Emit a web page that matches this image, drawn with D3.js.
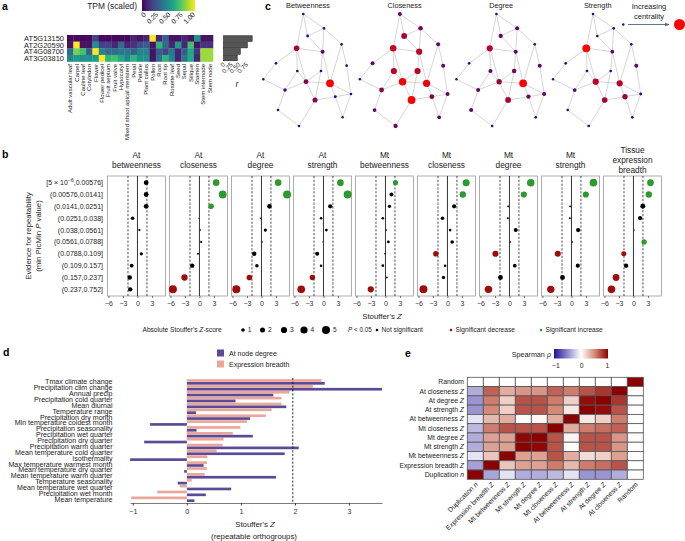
<!DOCTYPE html>
<html>
<head>
<meta charset="utf-8">
<script src="https://cdn.jsdelivr.net/npm/d3@7"></script>
<style>
  body { margin: 0; background: #fff; }
  svg { font-family: "Liberation Sans", Arial, sans-serif; }
</style>
</head>
<body>
<svg width="685" height="541"></svg>
<script>
// ---------- panel a data
let tissues = ["Adult vascular leaf", "Carpel", "Cauline leaf", "Cotyledon", "Flower", "Flower pedicel",
  "Fruit septum", "Fruit valve", "Hypocotyl", "Mixed shoot apical meristem", "Petal", "Petiole",
  "Plant callus", "Pollen", "Root", "Root tip", "Rosette leaf", "Seed", "Sepal", "Silique", "Stamen",
  "Stem internode", "Stem node"]
let genes = ["AT5G13150", "AT2G20590", "AT4G08700", "AT3G03810"]
let tpmScaled = [
  [0.02, 0.03, 0.02, 0.02, 0.2, 0.02, 0.02, 0.02, 0.02, 0.02, 0.1, 0.05, 0.1, 1.0, 0.1, 0.3, 0.05, 0.05, 0.1, 0.05, 0.5, 0.05, 0.05],
  [0.05, 1.0, 0.05, 0.05, 0.5, 0.2, 0.2, 0.1, 0.35, 0.1, 0.15, 0.25, 0.3, 0.05, 0.65, 0.35, 0.1, 0.55, 0.1, 0.7, 0.05, 0.15, 0.15],
  [0.35, 0.8, 0.7, 0.3, 1.0, 0.45, 0.35, 0.35, 0.4, 0.4, 0.3, 0.45, 0.45, 0.05, 0.3, 0.2, 0.4, 0.1, 0.3, 0.6, 0.15, 0.85, 0.85],
  [0.45, 0.55, 0.5, 0.5, 0.55, 1.0, 0.65, 0.7, 0.6, 0.45, 0.65, 0.5, 0.5, 0.05, 0.35, 0.65, 0.45, 0.1, 0.4, 0.6, 0.1, 0.85, 0.85]
]
let geneR = [0.94, 0.78, 0.55, 0.45]
let tpmTicks = [0, 0.25, 0.5, 0.75, 1]
let rTicks = [0, 0.25, 0.5, 0.75]

// ---------- panel c data
let measures = ["Betweenness", "Closeness", "Degree", "Strength"]
let nodeIds = ["A", "B", "C", "D", "E", "F", "G", "H", "I", "J", "K", "L", "M", "N", "O", "P", "Q", "R", "S", "T"]
let nodeX = [40, 60.7, 44.3, 33.3, 59.3, 78.3, 12.7, 83.3, 34, 57.7, 42.7, 66.7, 0, 21.7, 87.7, 72, 51.7, 14.7, 79.3, 35.7]
let nodeY = [14, 28.3, 36, 48.3, 51.7, 44.3, 63.3, 65.7, 71, 71, 81.7, 83.3, 79.3, 90, 94, 96.7, 100, 110, 117.3, 126]
let edges = [["A","B"],["A","C"],["A","D"],["B","C"],["B","E"],["B","F"],["C","E"],["D","E"],["D","G"],["D","I"],
  ["D","K"],["E","J"],["E","L"],["F","H"],["F","L"],["G","M"],["I","K"],["I","N"],["J","K"],["J","Q"],["K","L"],
  ["K","N"],["K","Q"],["L","O"],["L","P"],["H","O"],["P","O"],["P","Q"],["P","S"],["O","S"],["M","N"],["N","R"],
  ["R","T"],["Q","T"]]
let centrality = {
  Betweenness: [0.05, 0.05, 0.1, 0.6, 0.3, 0.05, 0.05, 0.05, 0.05, 0.05, 0.45, 1, 0, 0.2, 0.05, 0.1, 0.5, 0.05, 0, 0.05],
  Closeness: [0.3, 0.4, 0.65, 0.75, 0.7, 0.3, 0.3, 0.3, 0.7, 0.7, 0.95, 0.9, 0, 0.45, 0.3, 0.45, 1, 0.25, 0.25, 0.35],
  Degree: [0.05, 0.3, 0.35, 0.7, 0.3, 0.05, 0.05, 0.3, 0.3, 0.4, 0.55, 1, 0, 0.3, 0.3, 0.35, 0.65, 0.3, 0.05, 0.05],
  Strength: [0.05, 0.05, 0.05, 1, 0.25, 0.05, 0.05, 0.3, 0.05, 0.05, 0.7, 0.7, 0, 0.25, 0.1, 0.55, 0.6, 0.05, 0.05, 0.05]
}

// ---------- panel b data
let facetTitles = [["At", "betweenness"], ["At", "closeness"], ["At", "degree"], ["At", "strength"],
  ["Mt", "betweenness"], ["Mt", "closeness"], ["Mt", "degree"], ["Mt", "strength"],
  ["Tissue", "expression", "breadth"]]
let pBins = ["[5 × 10^−6^,0.00576]", "(0.00576,0.0141]", "(0.0141,0.0251]", "(0.0251,0.038]", "(0.038,0.0561]",
  "(0.0561,0.0788]", "(0.0788,0.109]", "(0.109,0.157]", "(0.157,0.237]", "(0.237,0.752]"]
let stoufferZ = [
  [1.8, 1.8, 1.8, -1.0, 0.4, 0.05, 0.8, -1.2, -1.6, -1.5],
  [3.45, 4.8, 2.4, -0.1, 0.2, 0.35, -0.3, -1.5, -3.1, -5.5],
  [3.45, 5.3, 1.65, -0.2, 0.8, 0.15, -1.5, -0.95, -2.5, -5.2],
  [3.5, 5.0, 1.4, -0.5, 0.6, -0.1, -1.3, -0.5, -2.3, -4.6],
  [2.07, 1.24, 0.83, -0.55, 0.2, 0.6, -0.14, -0.55, 0.28, -3.04],
  [3.86, 3.17, 1.38, -1.03, 0.55, 0.97, -2.4, -0.48, -0.83, -4.97],
  [4.4, 2.97, -0.28, -0.34, 1.3, 0.2, -2.9, 1.1, -1.86, -4.35],
  [4.55, 2.97, -0.28, -0.34, 1.38, 0.2, -2.83, 1.31, -1.86, -4.28],
  [3.52, 3.17, 1.93, 1.38, 0.14, 2.2, -2.0, -1.52, -3.6, -4.55]
]
let signif = [
  [0, 0, 0, 0, 0, 0, 0, 0, 0, 0],
  [1, 1, 1, 0, 0, 0, 0, 0, -1, -1],
  [1, 1, 0, 0, 0, 0, 0, 0, -1, -1],
  [1, 1, 0, 0, 0, 0, 0, 0, -1, -1],
  [1, 0, 0, 0, 0, 0, 0, 0, 0, -1],
  [1, 1, 0, 0, 0, 0, -1, 0, 0, -1],
  [1, 1, 0, 0, 0, 0, -1, 0, 0, -1],
  [1, 1, 0, 0, 0, 0, -1, 0, 0, -1],
  [1, 1, 0, 0, 0, 1, -1, 0, -1, -1]
]
let zTicks = [-6, -3, 0, 3]
let sizeLegend = [1, 2, 3, 4, 5]

// ---------- panel d data
let envVars = ["Tmax climate change", "Precipitation clim change", "Annual precip", "Precipitation cold quarter",
  "Mean diurnal", "Temperature range", "Precipitation dry month", "Min temperature coldest month",
  "Precipitation seasonality", "Precipitation wet quarter", "Precipitation dry quarter", "Precipitation warm quarter",
  "Mean temperature cold quarter", "Isothermality", "Max temperature warmest month", "Mean temperature dry quarter",
  "Mean temperature warm quarter", "Temperature seasonality", "Mean temperature wet quarter",
  "Precipitation wet month", "Mean temperature"]
let atNodeDegree = [2.55, 3.61, 1.60, 0.90, 1.84, 0.17, 1.17, -0.68, 0.18, 1.22, -0.79, 2.07, 1.81, -1.05, 0.31,
  -0.05, 1.65, -0.17, 0.82, 0.35, 0.14]
let exprBreadth = [2.49, 2.33, 1.90, 1.75, 1.75, 1.57, 1.46, 1.11, 0.99, 0.85, 0.68, 0.66, 0.55, 0.38, 0.37,
  0.37, 0.33, 0.09, -0.13, -0.55, -1.03]
let dTicks = [-1, 0, 1, 2, 3]

// ---------- panel e data
let eRows = ["Random", "At closeness Z", "At degree Z", "At strength Z", "At betweenness Z", "Mt closeness Z",
  "Mt degree Z", "Mt strength Z", "Mt betweenness Z", "Expression breadth Z", "Duplication n"]
let eCols = ["Duplication n", "Expression breadth Z", "Mt betweenness Z", "Mt strength Z", "Mt degree Z",
  "Mt closeness Z", "At betweenness Z", "At strength Z", "At degree Z", "At closeness Z", "Random"]
let rho = [
  [0, 0, 0, 0, 0, 0, 0, 0, 0, 0, 1],
  [-0.35, 0.65, 0.35, 0.45, 0.45, 0.65, 0.55, 0.7, 0.8, 1, 0],
  [-0.45, 0.55, 0.2, 0.7, 0.7, 0.55, 0.2, 0.95, 1, 0.8, 0],
  [-0.45, 0.5, 0.2, 0.7, 0.7, 0.5, 0.1, 1, 0.95, 0.7, 0],
  [-0.12, 0.3, 0.35, 0.02, 0.04, 0.35, 1, 0.1, 0.2, 0.55, 0],
  [-0.3, 0.55, 0.7, 0.7, 0.7, 1, 0.35, 0.55, 0.6, 0.65, 0],
  [-0.35, 0.4, 0.4, 0.97, 1, 0.7, 0.05, 0.7, 0.7, 0.45, 0.02],
  [-0.35, 0.4, 0.4, 1, 0.97, 0.7, 0.02, 0.7, 0.7, 0.45, 0],
  [-0.12, 0.25, 1, 0.4, 0.4, 0.7, 0.35, 0.15, 0.2, 0.4, 0],
  [-0.4, 1, 0.25, 0.4, 0.4, 0.55, 0.3, 0.55, 0.6, 0.7, 0],
  [1, -0.38, -0.12, -0.35, -0.35, -0.3, -0.12, -0.45, -0.45, -0.35, 0]
]
let rhoTicks = [-1, 0, 1]

let svg = d3.select("svg")
let defs = svg.append("defs")
let ink = "#222"

let txt = (g, x, y, s, size, anchor) => g.append("text")
  .attr("x", x).attr("y", y)
  .attr("font-size", size)
  .attr("text-anchor", anchor || "start")
  .attr("fill", ink)
  .text(s)

// label with last word italic (Z, n)
let italicTail = (t, s) => {
  let parts = s.split(" ")
  let last = parts[parts.length - 1]
  if (last === "Z" || last === "n") {
    t.text(parts.slice(0, -1).join(" ") + " ")
    t.append("tspan").attr("font-style", "italic").text(last)
  } else t.text(s)
}

let panelLetters = () => {
  [["a", 2, 10], ["c", 265, 10], ["b", 2, 158], ["d", 3, 356], ["e", 405, 357]].forEach(p => {
    txt(svg, p[1], p[2], p[0], 10.5).attr("font-weight", "bold").attr("fill", "#000")
  })
}

let drawPanelA = () => {
  let g = svg.append("g")
  let x = d3.scaleBand().domain(tissues).range([67, 213])
  let y = d3.scaleBand().domain(genes).range([35, 61.5])
  let color = d3.scaleSequential(d3.interpolateViridis).domain([0, 1])

  genes.forEach((gene, i) => {
    g.selectAll(null)
     .data(tpmScaled[i])
     .enter()
     .append("rect")
     .attr("x", (d, j) => x(tissues[j]))
     .attr("y", y(gene))
     .attr("width", x.bandwidth() + 0.3)
     .attr("height", y.bandwidth() + 0.3)
     .attr("fill", d => color(d))
  })

  genes.forEach(gene => {
    txt(g, 64, y(gene) + y.bandwidth() / 2, gene, 7.5, "end").attr("dy", "0.35em")
  })
  tissues.forEach(t => {
    txt(g, 0, 0, t, 6, "end")
      .attr("transform", "translate(" + (x(t) + x.bandwidth() / 2 + 2) + ",64) rotate(-90)")
  })

  // colour bar
  let grad = defs.append("linearGradient").attr("id", "viridis")
  d3.range(0, 1.01, 0.1).forEach(t => {
    grad.append("stop").attr("offset", t).attr("stop-color", color(t))
  })
  let cx = d3.scaleLinear().domain([0, 1]).range([144, 193])
  g.append("rect").attr("x", 142).attr("y", 0).attr("width", 53).attr("height", 11).attr("fill", "url(#viridis)")
  txt(g, 137, 8.5, "TPM (scaled)", 8.4, "end")
  tpmTicks.forEach(t => {
    txt(g, 0, 0, t === 0 ? "0" : d3.format(".2f")(t), 6.8, "end")
      .attr("transform", "translate(" + (cx(t) + 2.5) + ",15) rotate(-45)")
  })

  // r bars
  let rx = d3.scaleLinear().domain([0, 1]).range([223.5, 254])
  let ry = d3.scaleBand().domain(genes).range([35, 61.5]).padding(0.12)
  g.selectAll(null)
   .data(geneR)
   .enter()
   .append("rect")
   .attr("x", rx(0))
   .attr("y", (d, i) => ry(genes[i]))
   .attr("width", d => rx(d) - rx(0))
   .attr("height", ry.bandwidth())
   .attr("fill", "#555")
   .attr("stroke", "#222")
   .attr("stroke-width", 0.6)
  rTicks.forEach(t => {
    txt(g, 0, 0, t === 0 ? "0" : d3.format(".2f")(t), 6.3, "end")
      .attr("transform", "translate(" + (rx(t) + 2) + ",65) rotate(-45)")
  })
  txt(g, 237, 87, "r", 8.5, "middle").attr("font-style", "italic")
}

let drawPanelC = () => {
  let g = svg.append("g")
  let off = d3.scalePoint().domain(measures).range([263.3, 553])
  let color = d3.scaleLinear().domain([0, 1]).range(["#1a0a90", "#ff0000"])
  let radius = d3.scaleLinear().domain([0, 1]).range([1.2, 3.9])
  let idx = id => nodeIds.indexOf(id)

  measures.forEach(m => {
    let ox = off(m)
    txt(g, ox + 44.7, 8, m, 7.3, "middle")
    g.selectAll(null)
     .data(edges)
     .enter()
     .append("line")
     .attr("x1", d => ox + nodeX[idx(d[0])])
     .attr("y1", d => nodeY[idx(d[0])])
     .attr("x2", d => ox + nodeX[idx(d[1])])
     .attr("y2", d => nodeY[idx(d[1])])
     .attr("stroke", "#c4c4c4")
     .attr("stroke-width", 0.7)
    g.selectAll(null)
     .data(centrality[m])
     .enter()
     .append("circle")
     .attr("cx", (d, i) => ox + nodeX[i])
     .attr("cy", (d, i) => nodeY[i])
     .attr("r", d => radius(d))
     .attr("fill", d => color(d))
  })

  // increasing centrality key
  txt(g, 649, 9, "Increasing", 7.5, "middle")
  txt(g, 649, 18.5, "centrality", 7.5, "middle")
  defs.append("marker")
      .attr("id", "arrow")
      .attr("viewBox", "0 0 10 10")
      .attr("refX", 9).attr("refY", 5)
      .attr("markerWidth", 5).attr("markerHeight", 5)
      .attr("orient", "auto")
      .append("path").attr("d", "M0,1 L10,5 L0,9 z").attr("fill", "#4d6a82")
  g.append("circle").attr("cx", 623.3).attr("cy", 24.5).attr("r", radius(0)).attr("fill", color(0))
  g.append("line").attr("x1", 628).attr("x2", 669).attr("y1", 24.5).attr("y2", 24.5)
   .attr("stroke", "#4d6a82").attr("stroke-width", 0.9).attr("marker-end", "url(#arrow)")
  g.append("circle").attr("cx", 679.5).attr("cy", 24.5).attr("r", 5.5).attr("fill", color(1))
}

let drawPanelB = () => {
  let g = svg.append("g")
  let facet = d3.scaleBand().domain(d3.range(9)).range([107.5, 661.5]).paddingInner(0.0645)
  let y = d3.scalePoint().domain(pBins).range([176, 296]).padding(0.56)
  let size = d3.scaleSqrt().domain([0, 5]).range([0, 4]).clamp(true)
  let sigColor = s => s > 0 ? "#2e9a2e" : s < 0 ? "#a00c0c" : "#000"

  stoufferZ.forEach((zs, f) => {
    let left = facet(f)
    let w = facet.bandwidth()
    let x = d3.scaleLinear().domain([-6.2, 5.8]).range([left, left + w])
    let lines = facetTitles[f]
    lines.forEach((l, k) => {
      txt(g, left + w / 2, 163 - (lines.length - 1) * 4.85 + k * 9.7, l, 8.3, "middle")
    })
    g.append("rect").attr("x", left).attr("y", 176).attr("width", w).attr("height", 120)
     .attr("fill", "none").attr("stroke", "#9a9a9a").attr("stroke-width", 0.8)
    g.append("line").attr("x1", x(0)).attr("x2", x(0)).attr("y1", 176).attr("y2", 296)
     .attr("stroke", "#000").attr("stroke-width", 0.8)
    ;[-1.96, 1.96].forEach(v => {
      g.append("line").attr("x1", x(v)).attr("x2", x(v)).attr("y1", 176).attr("y2", 296)
       .attr("stroke", "#000").attr("stroke-width", 0.7).attr("stroke-dasharray", "2.2,1.6")
    })
    g.selectAll(null)
     .data(zs)
     .enter()
     .append("circle")
     .attr("cx", d => x(d))
     .attr("cy", (d, i) => y(pBins[i]))
     .attr("r", d => size(Math.abs(d)))
     .attr("fill", (d, i) => sigColor(signif[f][i]))
    g.append("g")
     .attr("transform", "translate(0,296)")
     .call(d3.axisBottom(x).tickValues(zTicks).tickSize(2).tickPadding(3.5).tickSizeOuter(0))
     .attr("font-family", null)
     .attr("font-size", 7)
     .call(a => a.select(".domain").remove())
     .call(a => a.selectAll("line").attr("stroke", "#666"))
     .call(a => a.selectAll("text").attr("fill", "#333"))
  })

  pBins.forEach(b => {
    let t = txt(g, 103, y(b), "", 7, "end").attr("dy", "0.35em")
    let parts = b.split("^")
    if (parts.length === 3) {
      t.append("tspan").text(parts[0])
      t.append("tspan").attr("dy", -3).attr("font-size", 5.2).text(parts[1])
      t.append("tspan").attr("dy", 3).text(parts[2])
    } else t.text(b)
  })

  txt(g, 0, 0, "Evidence for repeatability", 7.8, "middle")
    .attr("transform", "translate(31,236) rotate(-90)")
  let yt2 = txt(g, 0, 0, "(min PicMin ", 7.8, "middle")
    .attr("transform", "translate(41,236) rotate(-90)")
  yt2.append("tspan").attr("font-style", "italic").text("P")
  yt2.append("tspan").text(" value)")

  let xt = txt(g, 382, 319, "Stouffer's ", 7.8, "middle")
  xt.append("tspan").attr("font-style", "italic").text("Z")

  // legend
  let ly = 330
  let lt = txt(g, 142.5, ly + 2.3, "Absolute Stouffer's ", 6.6)
  lt.append("tspan").attr("font-style", "italic").text("Z")
  lt.append("tspan").text("-score")
  let lx = [243, 262.5, 284, 304, 326]
  sizeLegend.forEach((s, i) => {
    g.append("circle").attr("cx", lx[i]).attr("cy", ly).attr("r", size(s)).attr("fill", "#000")
    txt(g, lx[i] + size(s) + 3, ly + 2.3, String(s), 6.6)
  })
  let pt = txt(g, 348, ly + 2.3, "", 6.3)
  pt.append("tspan").attr("font-style", "italic").text("P")
  pt.append("tspan").text(" < 0.05")
  ;[[377, 0, "Not significant"], [451, -1, "Significant decrease"], [541, 1, "Significant increase"]].forEach(k => {
    g.append("circle").attr("cx", k[0]).attr("cy", ly).attr("r", 1.3).attr("fill", sigColor(k[1]))
    txt(g, k[0] + 4.5, ly + 2.3, k[2], 6.6)
  })
}

let drawPanelD = () => {
  let g = svg.append("g")
  let all = atNodeDegree.concat(exprBreadth)
  let x = d3.scaleLinear().domain(d3.extent(all)).range([130.1, 382])
  let y = d3.scaleBand().domain(envVars).range([379, 502.2])
  let sub = d3.scaleBand().domain(["expr", "deg"]).range([0, y.bandwidth()]).padding(0.06)
  let purple = "#5b4b94"
  let salmon = "#eba69a"

  g.selectAll(null)
   .data(exprBreadth)
   .enter()
   .append("rect")
   .attr("x", d => x(Math.min(0, d)))
   .attr("y", (d, i) => y(envVars[i]) + sub("expr"))
   .attr("width", d => Math.abs(x(d) - x(0)))
   .attr("height", sub.bandwidth())
   .attr("fill", salmon)
  g.selectAll(null)
   .data(atNodeDegree)
   .enter()
   .append("rect")
   .attr("x", d => x(Math.min(0, d)))
   .attr("y", (d, i) => y(envVars[i]) + sub("deg"))
   .attr("width", d => Math.abs(x(d) - x(0)))
   .attr("height", sub.bandwidth())
   .attr("fill", purple)

  g.append("line").attr("x1", x(1.96)).attr("x2", x(1.96)).attr("y1", 378).attr("y2", 503)
   .attr("stroke", "#000").attr("stroke-width", 0.8).attr("stroke-dasharray", "2.2,1.6")

  envVars.forEach(v => {
    txt(g, 112.5, y(v) + y.bandwidth() / 2, v, 7.1, "end").attr("dy", "0.35em")
  })

  g.append("g")
   .attr("transform", "translate(0,503)")
   .call(d3.axisBottom(x).tickValues(dTicks).tickFormat(d3.format("d")).tickSize(2.5).tickPadding(3).tickSizeOuter(0))
   .attr("font-family", null)
   .attr("font-size", 7.2)
   .call(a => a.select(".domain").attr("stroke", "#444").attr("stroke-width", 0.7))
   .call(a => a.selectAll("line").attr("stroke", "#444"))
   .call(a => a.selectAll("text").attr("fill", "#333"))

  let t1 = txt(g, 255, 527, "Stouffer's ", 7.8, "middle")
  t1.append("tspan").attr("font-style", "italic").text("Z")
  txt(g, 254, 539, "(repeatable orthogroups)", 7.8, "middle")

  g.append("rect").attr("x", 217).attr("y", 349.5).attr("width", 7).attr("height", 7).attr("fill", purple)
  txt(g, 229, 355.5, "At node degree", 7)
  g.append("rect").attr("x", 217).attr("y", 360.5).attr("width", 7).attr("height", 7).attr("fill", salmon)
  txt(g, 229, 366.5, "Expression breadth", 7)
}

let drawPanelE = () => {
  let g = svg.append("g")
  let x = d3.scaleBand().domain(eCols).range([467.3, 643.3])
  let y = d3.scaleBand().domain(eRows).range([377.3, 479.3])
  let color = d3.scaleLinear().domain([-1, 0, 0.5, 1]).range(["#1f1299", "#ffffff", "#d58a78", "#8b0000"])

  eRows.forEach((r, i) => {
    g.selectAll(null)
     .data(rho[i])
     .enter()
     .append("rect")
     .attr("x", (d, j) => x(eCols[j]))
     .attr("y", y(r))
     .attr("width", x.bandwidth())
     .attr("height", y.bandwidth())
     .attr("fill", d => color(d))
     .attr("stroke", "#555")
     .attr("stroke-width", 0.8)
    let t = txt(g, 464, y(r) + y.bandwidth() / 2, "", 6.8, "end").attr("dy", "0.35em")
    italicTail(t, r)
  })
  eCols.forEach(c => {
    let t = txt(g, 0, 0, "", 6.8, "end")
      .attr("transform", "translate(" + (x(c) + x.bandwidth() / 2 + 3) + ",485) rotate(-45)")
    italicTail(t, c)
  })

  // colour bar
  let grad = defs.append("linearGradient").attr("id", "rhoGrad")
  d3.range(-1, 1.01, 0.1).forEach(v => {
    grad.append("stop").attr("offset", (v + 1) / 2).attr("stop-color", color(v))
  })
  let cx = d3.scaleLinear().domain([-1, 1]).range([556, 607.5])
  g.append("rect").attr("x", 554).attr("y", 349).attr("width", 54).attr("height", 9.5).attr("fill", "url(#rhoGrad)")
  rhoTicks.forEach(v => {
    txt(g, cx(v), 368, d3.format("d")(v), 6.8, "middle")
  })
  let st = txt(g, 551, 356.5, "Spearman ", 7.2, "end")
  st.append("tspan").attr("font-style", "italic").text("ρ")
}

panelLetters()
drawPanelA()
drawPanelC()
drawPanelB()
drawPanelD()
drawPanelE()
</script>
</body>
</html>
